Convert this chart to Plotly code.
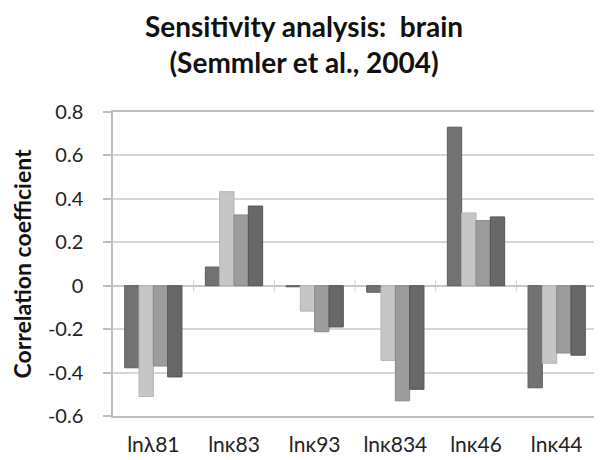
import plotly.graph_objects as go

categories = ["lnλ81", "lnκ83", "lnκ93", "lnκ834", "lnκ46", "lnκ44"]
series_1 = [-0.378, 0.086, -0.005, -0.03, 0.73, -0.47]
series_2 = [-0.51, 0.433, -0.117, -0.344, 0.335, -0.357]
series_3 = [-0.37, 0.326, -0.212, -0.53, 0.30, -0.31]
series_4 = [-0.42, 0.367, -0.19, -0.477, 0.317, -0.32]
y_ticks = [-0.6, -0.4, -0.2, 0, 0.2, 0.4, 0.6, 0.8]
y_tick_labels = ["-0.6", "-0.4", "-0.2", "0", "0.2", "0.4", "0.6", "0.8"]
title_lines = ["Sensitivity analysis:  brain", "(Semmler et al., 2004)"]
y_title = "Correlation coefficient"

series = [series_1, series_2, series_3, series_4]
fills = ["#727272", "#c6c6c6", "#9c9c9c", "#686868"]
edges = ["#5e5e5e", "#b4b4b4", "#8a8a8a", "#555555"]

xpos = list(range(len(categories)))
fig = go.Figure()
for vals, fc, ec in zip(series, fills, edges):
    fig.add_trace(go.Bar(x=xpos, y=vals, marker=dict(color=fc, line=dict(color=ec, width=1)),
                         showlegend=False))

# small category separator ticks on the zero line
bounds = [i + 0.5 for i in xpos[:-1]]
fig.add_trace(go.Scatter(x=bounds, y=[0] * len(bounds), mode="markers",
                         marker=dict(symbol="line-ns-open", size=8, color="#cfcfcf",
                                     line=dict(width=1, color="#cfcfcf")),
                         showlegend=False, hoverinfo="skip"))

font_family = "Lato"
fig.update_layout(
    width=602, height=460,
    margin=dict(l=105, r=13, t=104, b=52),
    paper_bgcolor="white", plot_bgcolor="white",
    barmode="group", bargap=0.29, bargroupgap=0,
    font=dict(family=font_family, color="#222222"),
)
fig.add_annotation(
    text="<b>" + "<br>".join(title_lines) + "</b>",
    xref="paper", yref="paper", x=0.395, y=1.345, xanchor="center", yanchor="top",
    showarrow=False, align="center",
    font=dict(size=28, family=font_family, color="#111111"),
)
fig.update_xaxes(
    range=[-0.5, len(categories) - 0.5],
    tickmode="array", tickvals=xpos, ticktext=categories,
    tickfont=dict(size=21, family=font_family, color="#222222"),
    showgrid=False, zeroline=False,
    showline=True, linecolor="#bdbdbd", linewidth=1.5, mirror=True,
    ticks="", ticklabelstandoff=9,
)
fig.update_yaxes(
    range=[-0.6, 0.8],
    tickmode="array", tickvals=y_ticks, ticktext=y_tick_labels,
    tickfont=dict(size=20, family=font_family, color="#222222"),
    showgrid=True, gridcolor="#d6d6d6", gridwidth=1.5,
    zeroline=True, zerolinecolor="#c8c8c8", zerolinewidth=1.5,
    showline=True, linecolor="#bdbdbd", linewidth=1.5, mirror=True,
    ticks="outside", ticklen=8, tickcolor="#bdbdbd", tickwidth=1.5,
    ticklabelstandoff=16,
    title=dict(text="<b>" + y_title + "</b>", standoff=12,
               font=dict(size=23, family=font_family, color="#111111")),
)
fig.write_html("out.html")
